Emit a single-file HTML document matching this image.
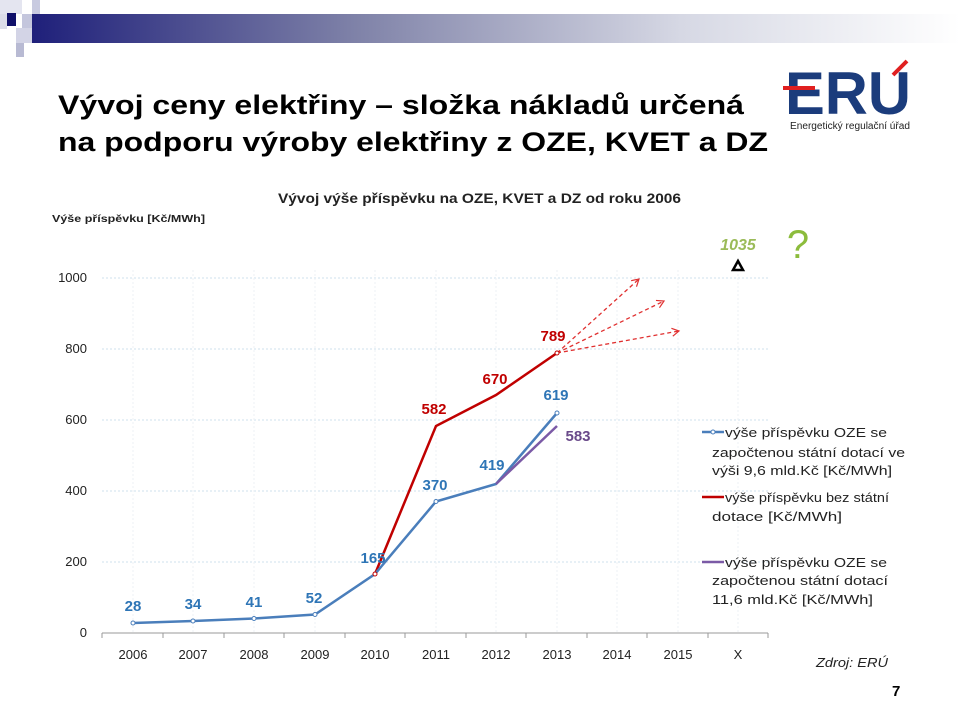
<!DOCTYPE html>
<html><head><meta charset="utf-8"><style>
html,body{margin:0;padding:0;background:#fff;width:960px;height:720px;overflow:hidden}
text{font-family:"Liberation Sans","DejaVu Sans",sans-serif}
</style></head><body>
<svg width="960" height="720" viewBox="0 0 960 720" xmlns="http://www.w3.org/2000/svg">
<defs>
<linearGradient id="bar" x1="0" x2="1" y1="0" y2="0">
<stop offset="0" stop-color="#1e1f7a"/><stop offset="0.35" stop-color="#7f82a8"/><stop offset="0.7" stop-color="#d6d8e4"/><stop offset="1" stop-color="#ffffff"/></linearGradient>
<marker id="ar" markerWidth="10" markerHeight="10" refX="8" refY="5" orient="auto" markerUnits="userSpaceOnUse"><path d="M1,1 L8,5 L1,9" fill="none" stroke="#e03030" stroke-width="1.2"/></marker>
</defs>
<rect x="30" y="14" width="930" height="29" fill="url(#bar)"/>
<rect x="0" y="0" width="22" height="14" fill="#e4e5f0"/>
<rect x="32" y="0" width="8" height="14" fill="#c8cae0"/>
<rect x="0" y="14" width="7" height="15" fill="#dcdde9"/>
<rect x="7" y="13" width="9" height="13" fill="#10106a"/>
<rect x="22" y="14" width="10" height="16" fill="#c4c6dd"/>
<rect x="16" y="28" width="16" height="15" fill="#d3d4e6"/>
<rect x="16" y="43" width="8" height="14" fill="#b8bad3"/>
<text x="58" y="114" font-size="27" font-weight="bold" fill="#000" textLength="686" lengthAdjust="spacingAndGlyphs">Vývoj ceny elektřiny – složka nákladů určená</text>
<text x="58" y="151" font-size="27" font-weight="bold" fill="#000" textLength="710" lengthAdjust="spacingAndGlyphs">na podporu výroby elektřiny z OZE, KVET a DZ</text>
<text x="785" y="114" font-size="60" font-weight="bold" fill="#1b3c7c" textLength="126" lengthAdjust="spacingAndGlyphs">ERU</text>
<line x1="783" y1="88" x2="815" y2="88" stroke="#e02020" stroke-width="4"/>
<line x1="893" y1="75" x2="907" y2="61" stroke="#e02020" stroke-width="4"/>
<text x="790" y="129" font-size="10" fill="#222" font-family="Liberation Serif,serif" textLength="120" lengthAdjust="spacingAndGlyphs">Energetický regulační úřad</text>
<text x="278" y="203" font-size="14" font-weight="bold" fill="#222" textLength="403" lengthAdjust="spacingAndGlyphs">Vývoj výše příspěvku na OZE, KVET a DZ od roku 2006</text>
<text x="52" y="222" font-size="10" font-weight="bold" fill="#222" textLength="153" lengthAdjust="spacingAndGlyphs">Výše příspěvku [Kč/MWh]</text>
<g stroke="#cfe0ee" stroke-width="1" stroke-dasharray="2,2">
<line x1="102" y1="278" x2="768" y2="278"/><line x1="102" y1="349" x2="768" y2="349"/>
<line x1="102" y1="420" x2="768" y2="420"/><line x1="102" y1="491" x2="768" y2="491"/>
<line x1="102" y1="562" x2="768" y2="562"/>
</g>
<g stroke="#eef2f6" stroke-width="1" stroke-dasharray="2,2">
<line x1="133" y1="270" x2="133" y2="633"/><line x1="193" y1="270" x2="193" y2="633"/><line x1="254" y1="270" x2="254" y2="633"/><line x1="315" y1="270" x2="315" y2="633"/><line x1="375" y1="270" x2="375" y2="633"/><line x1="436" y1="270" x2="436" y2="633"/><line x1="496" y1="270" x2="496" y2="633"/><line x1="557" y1="270" x2="557" y2="633"/><line x1="617" y1="270" x2="617" y2="633"/><line x1="678" y1="270" x2="678" y2="633"/><line x1="738" y1="270" x2="738" y2="633"/>
</g>
<line x1="102" y1="633" x2="768" y2="633" stroke="#999" stroke-width="1"/>
<g stroke="#999"><line x1="102" y1="633" x2="102" y2="638"/><line x1="163" y1="633" x2="163" y2="638"/><line x1="224" y1="633" x2="224" y2="638"/><line x1="284" y1="633" x2="284" y2="638"/><line x1="345" y1="633" x2="345" y2="638"/><line x1="405" y1="633" x2="405" y2="638"/><line x1="466" y1="633" x2="466" y2="638"/><line x1="526" y1="633" x2="526" y2="638"/><line x1="587" y1="633" x2="587" y2="638"/><line x1="647" y1="633" x2="647" y2="638"/><line x1="708" y1="633" x2="708" y2="638"/><line x1="768" y1="633" x2="768" y2="638"/></g>
<g font-size="13" fill="#222" text-anchor="end">
<text x="87" y="637">0</text><text x="87" y="566">200</text><text x="87" y="495">400</text><text x="87" y="424">600</text><text x="87" y="353">800</text><text x="87" y="282">1000</text>
</g>
<g font-size="13" fill="#222" text-anchor="middle">
<text x="133" y="659">2006</text><text x="193" y="659">2007</text><text x="254" y="659">2008</text><text x="315" y="659">2009</text><text x="375" y="659">2010</text><text x="436" y="659">2011</text><text x="496" y="659">2012</text><text x="557" y="659">2013</text><text x="617" y="659">2014</text><text x="678" y="659">2015</text><text x="738" y="659">X</text>
</g>
<g stroke="#e03030" stroke-width="1.3" stroke-dasharray="4,3" fill="none" marker-end="url(#ar)">
<line x1="557" y1="353" x2="639" y2="279"/><line x1="557" y1="353" x2="664" y2="301"/><line x1="557" y1="353" x2="679" y2="331"/>
</g>
<polyline points="375,574 436,426 496,395 557,353" fill="none" stroke="#c00000" stroke-width="2.5"/>
<polyline points="133,623 193,621 254,618.5 315,614.5 375,574 436,501.5 496,484 557,413" fill="none" stroke="#4a7ebb" stroke-width="2.5"/>
<polyline points="496,484 557,426" fill="none" stroke="#7b5aa6" stroke-width="2.5"/>
<g fill="#fff" stroke="#4a7ebb" stroke-width="1"><circle cx="133" cy="623" r="2"/><circle cx="193" cy="621" r="2"/><circle cx="254" cy="618.5" r="2"/><circle cx="315" cy="614.5" r="2"/><circle cx="436" cy="501.5" r="2"/><circle cx="557" cy="413" r="2"/></g>
<circle cx="375" cy="574" r="2" fill="#fff" stroke="#c00000"/><circle cx="557" cy="353" r="2" fill="#fff" stroke="#c00000"/>
<path d="M738,261 L743,270 L733,270 Z" fill="none" stroke="#000" stroke-width="2.5"/>
<g font-size="15" font-weight="bold" fill="#2e75b6" text-anchor="middle">
<text x="133" y="611">28</text><text x="193" y="609">34</text><text x="254" y="607">41</text><text x="314" y="603">52</text><text x="373" y="563">165</text><text x="435" y="490">370</text><text x="492" y="470">419</text><text x="556" y="400">619</text>
</g>
<g font-size="15" font-weight="bold" fill="#c00000" text-anchor="middle">
<text x="434" y="414">582</text><text x="495" y="384">670</text><text x="553" y="341">789</text>
</g>
<text x="578" y="441" font-size="15" font-weight="bold" fill="#6a4a8a" text-anchor="middle">583</text>
<text x="738" y="250" font-size="16" font-weight="bold" font-style="italic" fill="#9bbb59" text-anchor="middle">1035</text>
<text x="798" y="258" font-size="40" fill="#8cbc3c" text-anchor="middle">?</text>
<g font-size="13" fill="#222">
<line x1="702" y1="432" x2="724" y2="432" stroke="#4a7ebb" stroke-width="2.5"/><circle cx="713" cy="432" r="2" fill="#fff" stroke="#4a7ebb"/>
<text x="725" y="437" textLength="162" lengthAdjust="spacingAndGlyphs">výše příspěvku OZE se</text><text x="712" y="457" textLength="193" lengthAdjust="spacingAndGlyphs">započtenou státní dotací ve</text><text x="712" y="475" textLength="180" lengthAdjust="spacingAndGlyphs">výši 9,6 mld.Kč [Kč/MWh]</text>
<line x1="702" y1="497" x2="724" y2="497" stroke="#c00000" stroke-width="2.5"/>
<text x="725" y="502" textLength="164" lengthAdjust="spacingAndGlyphs">výše příspěvku bez státní</text><text x="712" y="521" textLength="130" lengthAdjust="spacingAndGlyphs">dotace [Kč/MWh]</text>
<line x1="702" y1="562" x2="724" y2="562" stroke="#7b5aa6" stroke-width="2.5"/>
<text x="725" y="567" textLength="162" lengthAdjust="spacingAndGlyphs">výše příspěvku OZE se</text><text x="712" y="585" textLength="176" lengthAdjust="spacingAndGlyphs">započtenou státní dotací</text><text x="712" y="604" textLength="161" lengthAdjust="spacingAndGlyphs">11,6 mld.Kč [Kč/MWh]</text>
</g>
<text x="816" y="667" font-size="13" font-style="italic" fill="#222" textLength="72" lengthAdjust="spacingAndGlyphs">Zdroj: ERÚ</text>
<text x="892" y="696" font-size="15" font-weight="bold" fill="#000">7</text>
</svg>
</body></html>
